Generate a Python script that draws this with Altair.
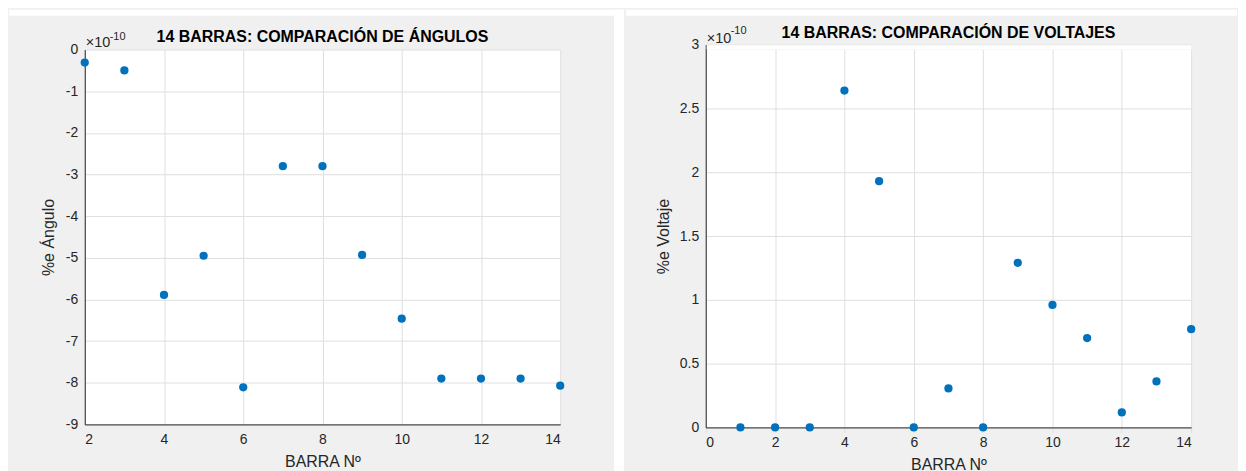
import altair as alt
import pandas as pd

# Values are in units of 1e-10 (axis multiplier shown as x10^-10)
ang_bus = [2, 3, 4, 5, 6, 7, 8, 9, 10, 11, 12, 13, 14]
ang_err = [-0.31, -0.50, -5.89, -4.95, -8.11, -2.80, -2.80, -4.93, -6.46, -7.90, -7.90, -7.90, -8.07]

volt_bus = [1, 2, 3, 4, 5, 6, 7, 8, 9, 10, 11, 12, 13, 14]
volt_err = [0.0, 0.0, 0.0, 2.64, 1.93, 0.0, 0.305, 0.0, 1.29, 0.96, 0.70, 0.117, 0.36, 0.77]

ang_xticks = [2, 4, 6, 8, 10, 12, 14]
ang_yticks = [0, -1, -2, -3, -4, -5, -6, -7, -8, -9]
volt_xticks = [0, 2, 4, 6, 8, 10, 12, 14]
volt_yticks = [0, 0.5, 1, 1.5, 2, 2.5, 3]

FONT = "Liberation Sans"
BLUE = "#0072BD"
TXT = "#262626"
one = pd.DataFrame({"k": [0]})


def panel(xs, ys, xdom, xticks, ydom, yticks, ytitle, title, W, H, yshift,
          left_ext, right_ext, top_ext, bottom_ext, ytitle_x, title_y,
          x10_y, sup_y, gap):
    df = pd.DataFrame({"bus": xs, "err": ys})
    pts = alt.Chart(df).mark_circle(size=68, color=BLUE, opacity=1).encode(
        x=alt.X("bus:Q",
                scale=alt.Scale(domain=xdom, nice=False, zero=False),
                axis=alt.Axis(values=xticks, title="BARRA Nº", grid=True,
                              ticks=False, tickSize=0, labelPadding=8,
                              labelExpr="toString(datum.value)",
                              titleY=29, titleBaseline="top")),
        y=alt.Y("err:Q",
                scale=alt.Scale(domain=ydom, nice=False, zero=False,
                                range=[H, -yshift]),
                axis=alt.Axis(values=yticks, title=ytitle, grid=True,
                              ticks=False, tickSize=0, labelPadding=7,
                              labelExpr="toString(datum.value)",
                              titleX=ytitle_x, titleY=(H - yshift) / 2,
                              titleBaseline="middle", titleAngle=270)),
    )
    strip = alt.Chart(one).mark_rect(color="white").encode(
        x=alt.value(-left_ext), x2=alt.value(W + right_ext + gap),
        y=alt.value(-top_ext - 6), y2=alt.value(-top_ext))
    layers = [strip]
    if gap > 0:
        gap_rect = alt.Chart(one).mark_rect(color="white").encode(
            x=alt.value(W + right_ext), x2=alt.value(W + right_ext + gap),
            y=alt.value(-top_ext - 6), y2=alt.value(H + bottom_ext))
        layers.append(gap_rect)
    if yshift > 0:
        band = alt.Chart(one).mark_rect(color="white").encode(
            x=alt.value(1), x2=alt.value(W),
            y=alt.value(-yshift + 0.5), y2=alt.value(0))
        layers.append(band)
    ttl = alt.Chart(one).mark_text(
        align="center", baseline="alphabetic", font=FONT, fontSize=16,
        fontWeight="bold", color="#000000").encode(
        x=alt.value(W / 2), y=alt.value(title_y), text=alt.value(title))
    x10 = alt.Chart(one).mark_text(
        align="left", baseline="alphabetic", font=FONT, fontSize=14.5,
        color=TXT).encode(x=alt.value(1), y=alt.value(x10_y), text=alt.value("×10"))
    sup = alt.Chart(one).mark_text(
        align="left", baseline="alphabetic", font=FONT, fontSize=11,
        color=TXT).encode(x=alt.value(25), y=alt.value(sup_y), text=alt.value("-10"))
    layers += [pts, ttl, x10, sup]
    return alt.layer(*layers).properties(width=W, height=H)


left = panel(ang_bus, ang_err, [2, 14], ang_xticks, [-9, 0], ang_yticks,
             "%e Ángulo", "14 BARRAS: COMPARACIÓN DE ÁNGULOS",
             477, 376, 0, 76, 54, 34, 47, -36.5, -8, -3, -10, 10)
right = panel(volt_bus, volt_err, [0, 14], volt_xticks, [0, 3], volt_yticks,
              "%e Voltaje", "14 BARRAS: COMPARACIÓN DE VOLTAJES",
              487, 379, 5, 80, 46, 34, 44, -42, -12, -7, -16, 0)

chart = alt.hconcat(left, right, spacing=0).properties(
    padding={"left": 0, "top": 0, "right": 0, "bottom": 0}
).configure(
    background="#f0f0f0", font=FONT
).configure_view(
    fill="white", stroke="transparent"
).configure_axis(
    domainColor=TXT, domainWidth=1, gridColor="#dfdfdf", gridWidth=1,
    labelColor=TXT, labelFont=FONT, labelFontSize=14,
    titleColor=TXT, titleFont=FONT, titleFontSize=16, titleFontWeight="normal"
)

chart.save("out.html", embed_options={"renderer": "svg", "actions": False})
